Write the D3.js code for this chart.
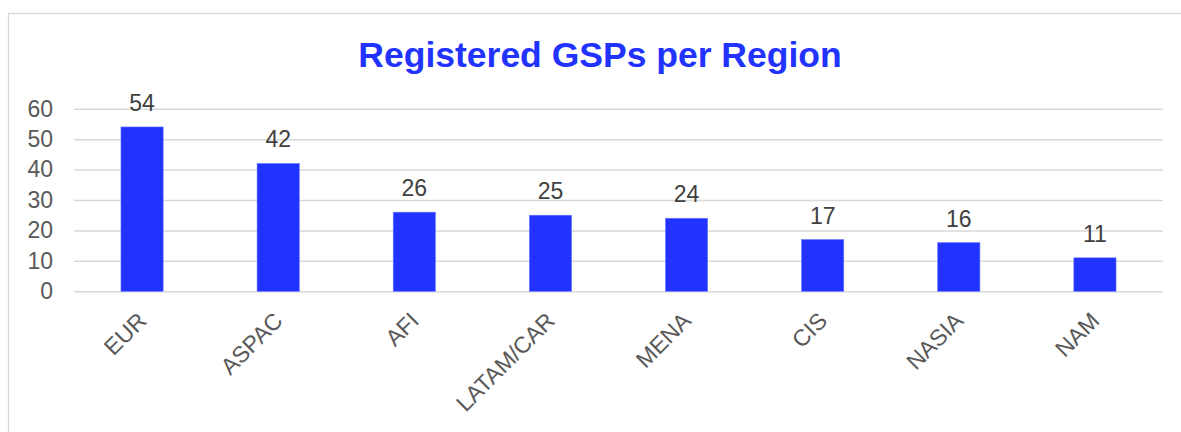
<!DOCTYPE html>
<html>
<head>
<meta charset="utf-8">
<script src="https://cdn.jsdelivr.net/npm/d3@7"></script>
<style>
  html, body { margin: 0; padding: 0; background: #fff; }
  svg { display: block; }
  text { font-family: "Liberation Sans", Arial, Helvetica, sans-serif; }
</style>
</head>
<body>
<svg id="chart" width="1181" height="432"></svg>
<script>
// Registered GSPs per region
const regions = ["EUR", "ASPAC", "AFI", "LATAM/CAR", "MENA", "CIS", "NASIA", "NAM"];
const gspCounts = [54, 42, 26, 25, 24, 17, 16, 11];
const yTicks = [0, 10, 20, 30, 40, 50, 60];
const chartTitle = "Registered GSPs per Region";

const svg = d3.select("#chart");
const W = 1181, H = 432;

// outer frame
svg.append("rect")
  .attr("x", 8.5).attr("y", 13.5)
  .attr("width", W + 20).attr("height", H + 20)
  .attr("fill", "#fff")
  .attr("stroke", "#d9d9d9").attr("stroke-width", 1.3);

const plot = { left: 74, right: 1163, top: 108.7, bottom: 291.3 };

const x = d3.scaleBand()
  .domain(regions)
  .range([plot.left, plot.right])
  .paddingInner(0.69)
  .paddingOuter(0.345);

const y = d3.scaleLinear()
  .domain([0, 60])
  .range([plot.bottom, plot.top]);

// gridlines
const yAxis = d3.axisLeft(y)
  .tickValues(yTicks)
  .tickSize(-(plot.right - plot.left))
  .tickPadding(21)
  .tickFormat(d3.format("d"));

const gy = svg.append("g")
  .attr("transform", `translate(${plot.left},0)`)
  .call(yAxis);
gy.select(".domain").remove();
gy.selectAll(".tick line")
  .attr("stroke", "#d9d9d9").attr("stroke-width", 1.5);
gy.selectAll(".tick text")
  .attr("fill", "#595959")
  .style("font-size", "23px");

// bars
svg.append("g").selectAll("rect")
  .data(regions)
  .join("rect")
  .attr("x", d => x(d))
  .attr("y", (d, i) => y(gspCounts[i]))
  .attr("width", x.bandwidth())
  .attr("height", (d, i) => y(0) - y(gspCounts[i]))
  .attr("fill", "#2233ff")
  .attr("stroke", "#6677ff")
  .attr("stroke-width", 0.6);

// value labels
svg.append("g").selectAll("text")
  .data(regions)
  .join("text")
  .attr("x", d => x(d) + x.bandwidth() / 2)
  .attr("y", (d, i) => y(gspCounts[i]) - 16)
  .attr("text-anchor", "middle")
  .attr("fill", "#404040")
  .style("font-size", "23px")
  .text((d, i) => gspCounts[i]);

// category axis
const xAxis = d3.axisBottom(x).tickSize(0).tickPadding(0);
const gx = svg.append("g")
  .attr("transform", `translate(0,${plot.bottom})`)
  .call(xAxis);
gx.select(".domain").remove();
gx.selectAll(".tick text")
  .attr("fill", "#595959")
  .style("font-size", "23px")
  .attr("text-anchor", "end")
  .attr("dy", null)
  .attr("y", 0)
  .attr("transform", "translate(-6,19) rotate(-45)")
  .attr("dominant-baseline", "hanging");

// title
svg.append("text")
  .attr("x", 600)
  .attr("y", 67)
  .attr("text-anchor", "middle")
  .attr("fill", "#2233ff")
  .style("font-size", "35.5px")
  .style("font-weight", "bold")
  .text(chartTitle);
</script>
</body>
</html>
